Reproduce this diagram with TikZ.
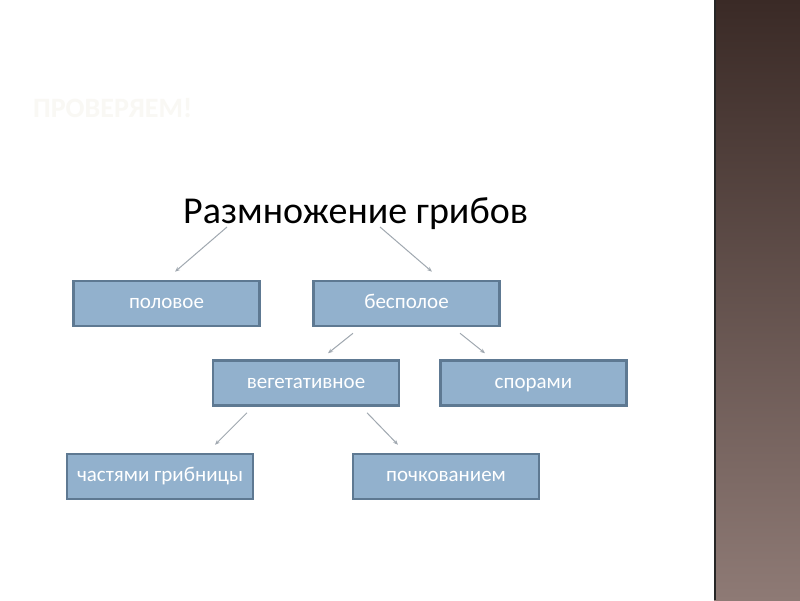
\documentclass[tikz,border=0pt]{standalone}
\usepackage{fontspec}
\setmainfont{Carlito}
\usetikzlibrary{positioning,calc,arrows.meta}
\definecolor{boxfill}{RGB}{146,177,205}
\definecolor{boxline}{RGB}{94,121,146}
\definecolor{arrgray}{RGB}{160,168,176}
\definecolor{bartop}{RGB}{58,42,38}
\definecolor{barbot}{RGB}{142,122,117}
\definecolor{faint}{RGB}{249,248,244}
\tikzset{box/.style={draw=boxline,fill=boxfill,line width=2.5pt,text=white,minimum width=186pt,minimum height=45pt,inner sep=0pt,text height=10pt,text depth=0pt,font=\fontsize{21}{24}\selectfont},
	arr/.style={draw=arrgray,line width=1pt,-{Stealth[length=5pt,width=4pt]}}}

\begin{document}
\begin{tikzpicture}[x=1pt,y=-1pt]
	\useasboundingbox (0,0) rectangle (800,600);
	\fill[white] (0,0) rectangle (800,600);
	% dark side bar
	\shade[top color=bartop,bottom color=barbot] (714,0) rectangle (800,600);
	\draw[black!85,line width=2pt] (715,0) -- (715,600);
	
	\node[anchor=base west,text=faint,font=\bfseries\fontsize{28}{32}\selectfont,inner sep=0pt] (check) at (33,117) {ПРОВЕРЯЕМ!};
	\node[anchor=base west,font=\fontsize{38}{44}\selectfont,inner sep=0pt] (tit) at (183,223) {Размножение грибов};
	
	\node[box] (pol) at (166.5,303.5) {половое};
	\node[box] (bes) at (406.5,303.5) {бесполое};
	\node[box] (veg) at (306,383) {вегетативное};
	\node[box] (spo) at (533.5,383) {спорами};
	\node[box] (chast) at (160,476.5) {частями грибницы};
	\node[box] (poch) at (446,476.5) {почкованием};
	
	\draw[arr] ([xshift=44pt,yshift=-4pt]tit.base west) -- ([xshift=8.5pt,yshift=8pt]pol.north);
	\draw[arr] ([xshift=197pt,yshift=-4pt]tit.base west) -- ([xshift=25.5pt,yshift=8pt]bes.north);
	\draw[arr] ([xshift=-53.5pt,yshift=-6pt]bes.south) -- ([xshift=22pt,yshift=6pt]veg.north);
	\draw[arr] ([xshift=53.5pt,yshift=-6pt]bes.south) -- ([xshift=-48.5pt,yshift=6pt]spo.north);
	\draw[arr] ([xshift=-59pt,yshift=-6pt]veg.south) -- ([xshift=55pt,yshift=8pt]chast.north);
	\draw[arr] ([xshift=61pt,yshift=-6pt]veg.south) -- ([xshift=-48pt,yshift=8pt]poch.north);
\end{tikzpicture}
\end{document}
